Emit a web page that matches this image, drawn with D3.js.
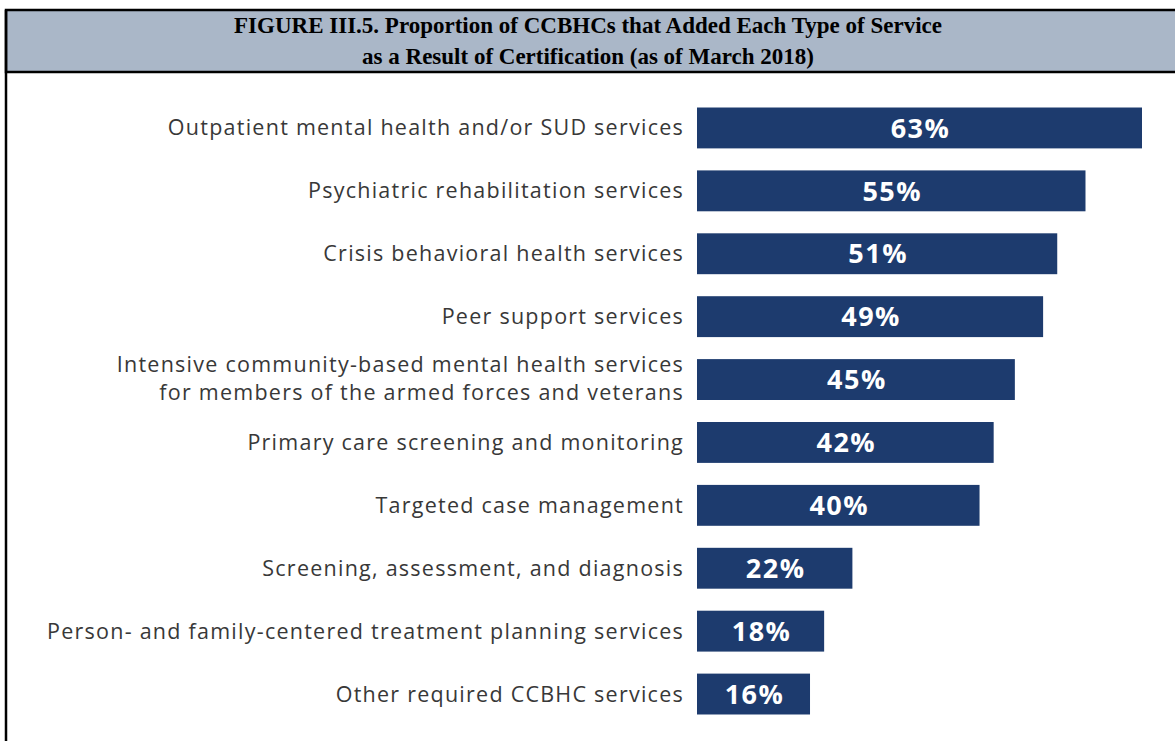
<!DOCTYPE html>
<html><head><meta charset="utf-8">
<script src="https://cdn.jsdelivr.net/npm/d3@7"></script>
<style>html,body{margin:0;padding:0;background:#fff;}svg{display:block;}</style>
</head><body>
<svg id="chart" width="1175" height="741"></svg>
<script>
const categories = [
  ["Outpatient mental health and/or SUD services"],
  ["Psychiatric rehabilitation services"],
  ["Crisis behavioral health services"],
  ["Peer support services"],
  ["Intensive community-based mental health services", "for members of the armed forces and veterans"],
  ["Primary care screening and monitoring"],
  ["Targeted case management"],
  ["Screening, assessment, and diagnosis"],
  ["Person- and family-centered treatment planning services"],
  ["Other required CCBHC services"]
];
const values = [63, 55, 51, 49, 45, 42, 40, 22, 18, 16];
const valueLabels = ["63%", "55%", "51%", "49%", "45%", "42%", "40%", "22%", "18%", "16%"];
const titleLines = ["FIGURE III.5. Proportion of CCBHCs that Added Each Type of Service",
                    "as a Result of Certification (as of March 2018)"];

const svg = d3.select("#chart");
// frame and header
svg.append("rect").attr("x", 6).attr("y", 10).attr("width", 1180).attr("height", 62)
  .attr("fill", "#aab7c8").attr("stroke", "#000").attr("stroke-width", 2.5);
svg.append("line").attr("x1", 6).attr("x2", 6).attr("y1", 10).attr("y2", 741)
  .attr("stroke", "#000").attr("stroke-width", 2.5);
svg.selectAll("text.title").data(titleLines).join("text").attr("class", "title")
  .attr("x", 588).attr("y", (d, i) => 33 + i * 31)
  .attr("text-anchor", "middle")
  .attr("font-family", "'Liberation Serif', 'Times New Roman', serif")
  .attr("font-weight", "bold").attr("font-size", 23).attr("fill", "#000")
  .text(d => d);

const x = d3.scaleLinear().domain([0, 63]).range([697, 1142]);
const idx = d3.range(values.length);
const y = d3.scaleBand().domain(idx).range([96.5, 725.5]).paddingInner(0.35).paddingOuter(0.175);

const g = svg.append("g");
g.selectAll("rect.bar").data(idx).join("rect").attr("class", "bar")
  .attr("x", x(0)).attr("y", i => y(i))
  .attr("width", i => x(values[i]) - x(0)).attr("height", y.bandwidth())
  .attr("fill", "#1d3b6e");

g.selectAll("text.val").data(idx).join("text").attr("class", "val")
  .attr("x", i => (x(0) + x(values[i])) / 2 + 1)
  .attr("y", i => y(i) + y.bandwidth() / 2)
  .attr("dy", "0.36em")
  .attr("text-anchor", "middle")
  .attr("font-family", "'Open Sans', sans-serif").attr("font-weight", "bold")
  .attr("font-size", 27).attr("letter-spacing", 1.5).attr("fill", "#fff")
  .text(i => valueLabels[i]);

const lab = g.selectAll("text.cat").data(idx).join("text").attr("class", "cat")
  .attr("text-anchor", "end")
  .attr("font-family", "'Open Sans', sans-serif").attr("font-size", 21.5)
  .attr("letter-spacing", 1.25).attr("fill", "#383838");
lab.each(function(i) {
  const lines = categories[i];
  const cy = y(i) + y.bandwidth() / 2;
  const lh = 28;
  d3.select(this).selectAll("tspan").data(lines).join("tspan")
    .attr("x", 684)
    .attr("y", (d, k) => cy + (k - (lines.length - 1) / 2) * lh - (lines.length - 1) * 1.5)
    .attr("dy", "0.35em")
    .text(d => d);
});
</script>
</body></html>
